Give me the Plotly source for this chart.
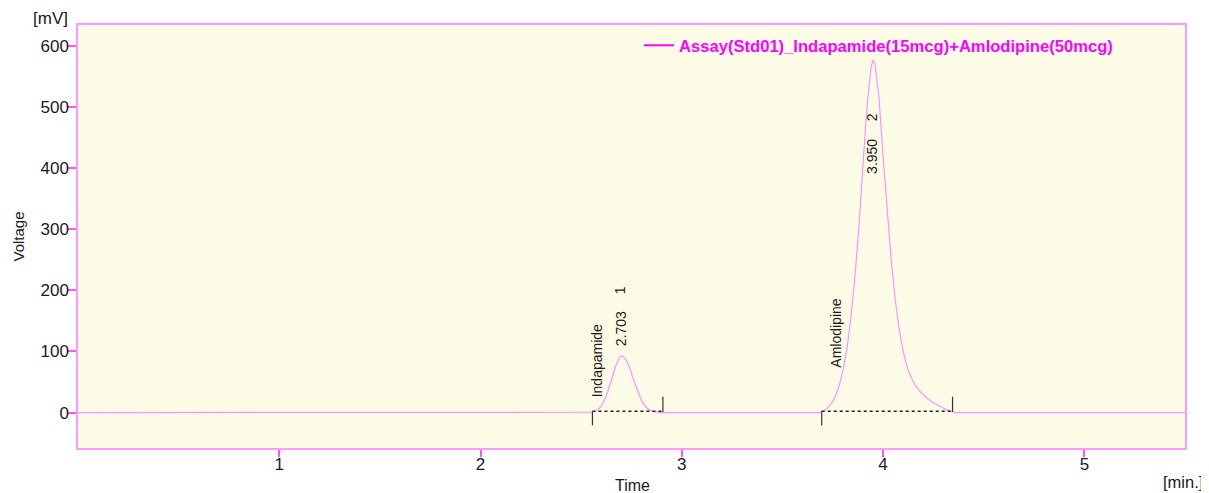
import plotly.graph_objects as go

# ---------------- data ----------------
time_min = [0.0, 2.50, 2.55, 2.57, 2.59, 2.61, 2.63, 2.65, 2.67, 2.69, 2.703,
            2.72, 2.74, 2.76, 2.78, 2.80, 2.82, 2.84, 2.86, 2.88, 2.90, 2.95,
            3.65, 3.68, 3.70, 3.72, 3.74, 3.76, 3.78, 3.80, 3.82, 3.84, 3.86,
            3.88, 3.90, 3.92, 3.94, 3.95, 3.96, 3.98, 4.00, 4.02, 4.04, 4.06,
            4.08, 4.10, 4.12, 4.14, 4.16, 4.18, 4.20, 4.22, 4.24, 4.26, 4.28,
            4.30, 4.32, 4.34, 4.36, 4.45, 5.5]
voltage_mv = [0.0, 0.0, 0.5, 2.5, 7, 16, 32, 53, 75, 90, 93,
              88.5, 74, 54, 35, 19.5, 9.5, 4, 1.5, 0.5, 0.0, 0.0,
              0.0, 0.0, 1.5, 6, 14, 24, 42, 68, 103, 155, 222,
              305, 405, 500, 565, 577, 570, 515, 418, 330, 252, 186,
              136, 100, 74, 57, 45, 36, 29, 23, 18, 14, 10.5,
              7, 4, 1.5, 0.0, 0.0, 0.0]

peak_names = ["Indapamide", "Amlodipine"]
peak_numbers = [1, 2]
peak_rt = [2.703, 3.950]
peak_start = [2.556, 3.695]
peak_end = [2.906, 4.345]
baseline_mv = [2.0, 2.0]

series_name = "Assay(Std01)_Indapamide(15mcg)+Amlodipine(50mcg)"
x_ticks = [1, 2, 3, 4, 5]
y_ticks = [0, 100, 200, 300, 400, 500, 600]

# ---------------- layout constants ----------------
# the page body has an 8px margin, so the figure is offset by 8px
OFF = 8
W, H = 1209 - OFF, 493 - OFF
PL, PR, PT, PB = 78, 1185, 25, 448          # plot box in page pixels
ML, MT = PL - OFF, PT - OFF
MR, MB = W - (PR - OFF), H - (PB - OFF)
PW, PH = PR - PL, PB - PT


def px(x):
    return (x - PL) / PW


def py(y):
    return (PB - y) / PH


FONT = "Liberation Sans, Arial, sans-serif"
TXT = "#1a1a1a"
PINK_FRAME = "#ff99ff"
PINK_TICK = "#ff55ff"

fig = go.Figure()

fig.add_trace(go.Scatter(
    x=time_min, y=voltage_mv, mode="lines",
    line=dict(color="#ff90ff", width=1.2),
    showlegend=False, hoverinfo="skip"))

# legend entry
fig.add_trace(go.Scatter(
    x=[None], y=[None], mode="lines", name="<b>" + series_name + "</b>",
    line=dict(color="#ff00ff", width=2), showlegend=True))

shapes = []
annotations = []
for name, num, rt, s, e, b in zip(peak_names, peak_numbers, peak_rt,
                                  peak_start, peak_end, baseline_mv):
    shapes.append(dict(type="line", xref="x", yref="y", x0=s, x1=e, y0=b, y1=b,
                       line=dict(color="#222222", width=1.5, dash="dot")))
    shapes.append(dict(type="line", xref="x", yref="y", x0=s, x1=s, y0=b, y1=-21,
                       line=dict(color="#333333", width=1.2)))
    shapes.append(dict(type="line", xref="x", yref="y", x0=e, x1=e, y0=b - 1, y1=26,
                       line=dict(color="#333333", width=1.2)))

ann_font = dict(family=FONT, size=14, color=TXT)
annotations.append(dict(x=2.577, y=22, xref="x", yref="y", text=peak_names[0],
                        textangle=-90, showarrow=False, xanchor="center",
                        yanchor="bottom", font=ann_font))
annotations.append(dict(x=3.766, y=71, xref="x", yref="y", text=peak_names[1],
                        textangle=-90, showarrow=False, xanchor="center",
                        yanchor="bottom", font=ann_font))
annotations.append(dict(x=2.697, y=106, xref="x", yref="y", text=f"{peak_rt[0]:.3f}",
                        textangle=-90, showarrow=False, xanchor="center",
                        yanchor="bottom", font=ann_font))
annotations.append(dict(x=3.944, y=388, xref="x", yref="y", text=f"{peak_rt[1]:.3f}",
                        textangle=-90, showarrow=False, xanchor="center",
                        yanchor="bottom", font=ann_font))
annotations.append(dict(x=2.697, y=200, xref="x", yref="y", text=str(peak_numbers[0]),
                        textangle=-90, showarrow=False, xanchor="center",
                        yanchor="middle", font=ann_font))
annotations.append(dict(x=3.944, y=483, xref="x", yref="y", text=str(peak_numbers[1]),
                        textangle=-90, showarrow=False, xanchor="center",
                        yanchor="middle", font=ann_font))

big_font = dict(family=FONT, size=17, color=TXT)
annotations.append(dict(x=px(50.5), y=py(19), xref="paper", yref="paper", text="[mV]",
                        showarrow=False, xanchor="center", yanchor="middle", font=big_font))
annotations.append(dict(x=px(17.5), y=py(237), xref="paper", yref="paper", text="Voltage",
                        textangle=-90, showarrow=False, xanchor="center", yanchor="middle",
                        font=dict(family=FONT, size=15, color=TXT)))
annotations.append(dict(x=px(632), y=py(485.5), xref="paper", yref="paper", text="Time",
                        showarrow=False, xanchor="center", yanchor="middle",
                        font=dict(family=FONT, size=16, color=TXT)))
annotations.append(dict(x=px(1205), y=py(481.5), xref="paper", yref="paper", text="[min.]",
                        showarrow=False, xanchor="right", yanchor="middle",
                        font=dict(family=FONT, size=16.5, color=TXT)))

fig.update_layout(
    width=W, height=H,
    margin=dict(l=ML, r=MR, t=MT, b=MB, pad=0),
    paper_bgcolor="white",
    plot_bgcolor="#fcfce6",
    font=dict(family=FONT, color=TXT),
    shapes=shapes,
    annotations=annotations,
    showlegend=True,
    legend=dict(x=px(639), y=py(28), xanchor="left", yanchor="top",
                bgcolor="rgba(0,0,0,0)", borderwidth=0,
                font=dict(family=FONT, size=16.6, color="#ff00ff")),
    xaxis=dict(range=[0, 5.5], tickvals=x_ticks, ticktext=[str(v) for v in x_ticks],
               ticks="outside", ticklen=7, tickwidth=1.5, tickcolor=PINK_TICK,
               ticklabelstandoff=-7,
               showline=True, linecolor=PINK_FRAME, linewidth=1.5, mirror=True,
               showgrid=False, zeroline=False,
               tickfont=dict(family=FONT, size=17, color=TXT)),
    yaxis=dict(range=[-58, 634.5], tickvals=y_ticks, ticktext=[str(v) for v in y_ticks],
               ticks="outside", ticklen=9, tickwidth=1.5, tickcolor=PINK_TICK,
               ticklabelstandoff=-5,
               showline=True, linecolor=PINK_FRAME, linewidth=1.5, mirror=True,
               showgrid=False, zeroline=False,
               tickfont=dict(family=FONT, size=17, color=TXT)),
)

fig.write_html("out.html")
